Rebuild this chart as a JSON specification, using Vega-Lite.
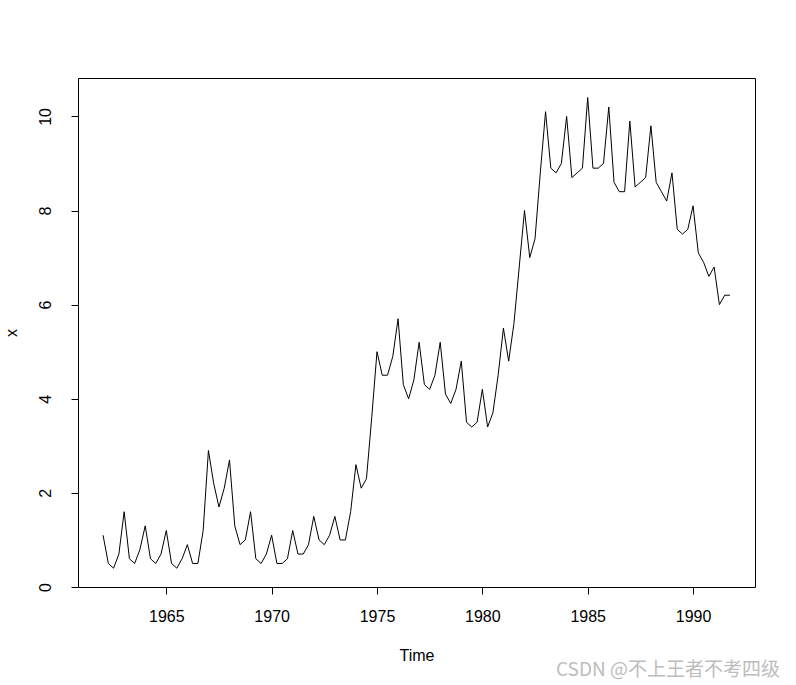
{
  "$schema": "https://vega.github.io/schema/vega-lite/v6.json",
  "width": 677,
  "height": 509,
  "autosize": {"type": "none"},
  "padding": {"left": 78, "top": 78, "right": 41, "bottom": 98},
  "background": "white",
  "config": {
    "font": "Liberation Sans",
    "view": {"stroke": "black", "strokeWidth": 1},
    "axis": {"grid": false, "domain": false, "tickColor": "black", "tickSize": 7, "tickWidth": 1,
      "labelColor": "black", "labelFont": "Liberation Sans", "labelFontSize": 16,
      "titleFont": "Liberation Sans", "titleFontSize": 16, "titleFontWeight": "normal", "titleColor": "black"}
  },
  "title": {"text": "CSDN @不上王者不考四级", "orient": "bottom", "anchor": "end", "font": "Noto Sans CJK SC",
    "fontSize": 19, "fontWeight": "normal", "color": "#bdbdbd", "dx": 25, "offset": -2},
  "data": {"values": [
    {"t": 1962.00, "x": 1.1}, {"t": 1962.25, "x": 0.5}, {"t": 1962.50, "x": 0.4}, {"t": 1962.75, "x": 0.7},
    {"t": 1963.00, "x": 1.6}, {"t": 1963.25, "x": 0.6}, {"t": 1963.50, "x": 0.5}, {"t": 1963.75, "x": 0.8},
    {"t": 1964.00, "x": 1.3}, {"t": 1964.25, "x": 0.6}, {"t": 1964.50, "x": 0.5}, {"t": 1964.75, "x": 0.7},
    {"t": 1965.00, "x": 1.2}, {"t": 1965.25, "x": 0.5}, {"t": 1965.50, "x": 0.4}, {"t": 1965.75, "x": 0.6},
    {"t": 1966.00, "x": 0.9}, {"t": 1966.25, "x": 0.5}, {"t": 1966.50, "x": 0.5}, {"t": 1966.75, "x": 1.2},
    {"t": 1967.00, "x": 2.9}, {"t": 1967.25, "x": 2.2}, {"t": 1967.50, "x": 1.7}, {"t": 1967.75, "x": 2.1},
    {"t": 1968.00, "x": 2.7}, {"t": 1968.25, "x": 1.3}, {"t": 1968.50, "x": 0.9}, {"t": 1968.75, "x": 1.0},
    {"t": 1969.00, "x": 1.6}, {"t": 1969.25, "x": 0.6}, {"t": 1969.50, "x": 0.5}, {"t": 1969.75, "x": 0.7},
    {"t": 1970.00, "x": 1.1}, {"t": 1970.25, "x": 0.5}, {"t": 1970.50, "x": 0.5}, {"t": 1970.75, "x": 0.6},
    {"t": 1971.00, "x": 1.2}, {"t": 1971.25, "x": 0.7}, {"t": 1971.50, "x": 0.7}, {"t": 1971.75, "x": 0.9},
    {"t": 1972.00, "x": 1.5}, {"t": 1972.25, "x": 1.0}, {"t": 1972.50, "x": 0.9}, {"t": 1972.75, "x": 1.1},
    {"t": 1973.00, "x": 1.5}, {"t": 1973.25, "x": 1.0}, {"t": 1973.50, "x": 1.0}, {"t": 1973.75, "x": 1.6},
    {"t": 1974.00, "x": 2.6}, {"t": 1974.25, "x": 2.1}, {"t": 1974.50, "x": 2.3}, {"t": 1974.75, "x": 3.6},
    {"t": 1975.00, "x": 5.0}, {"t": 1975.25, "x": 4.5}, {"t": 1975.50, "x": 4.5}, {"t": 1975.75, "x": 4.9},
    {"t": 1976.00, "x": 5.7}, {"t": 1976.25, "x": 4.3}, {"t": 1976.50, "x": 4.0}, {"t": 1976.75, "x": 4.4},
    {"t": 1977.00, "x": 5.2}, {"t": 1977.25, "x": 4.3}, {"t": 1977.50, "x": 4.2}, {"t": 1977.75, "x": 4.5},
    {"t": 1978.00, "x": 5.2}, {"t": 1978.25, "x": 4.1}, {"t": 1978.50, "x": 3.9}, {"t": 1978.75, "x": 4.2},
    {"t": 1979.00, "x": 4.8}, {"t": 1979.25, "x": 3.5}, {"t": 1979.50, "x": 3.4}, {"t": 1979.75, "x": 3.5},
    {"t": 1980.00, "x": 4.2}, {"t": 1980.25, "x": 3.4}, {"t": 1980.50, "x": 3.7}, {"t": 1980.75, "x": 4.5},
    {"t": 1981.00, "x": 5.5}, {"t": 1981.25, "x": 4.8}, {"t": 1981.50, "x": 5.6}, {"t": 1981.75, "x": 6.8},
    {"t": 1982.00, "x": 8.0}, {"t": 1982.25, "x": 7.0}, {"t": 1982.50, "x": 7.4}, {"t": 1982.75, "x": 8.8},
    {"t": 1983.00, "x": 10.1}, {"t": 1983.25, "x": 8.9}, {"t": 1983.50, "x": 8.8}, {"t": 1983.75, "x": 9.0},
    {"t": 1984.00, "x": 10.0}, {"t": 1984.25, "x": 8.7}, {"t": 1984.50, "x": 8.8}, {"t": 1984.75, "x": 8.9},
    {"t": 1985.00, "x": 10.4}, {"t": 1985.25, "x": 8.9}, {"t": 1985.50, "x": 8.9}, {"t": 1985.75, "x": 9.0},
    {"t": 1986.00, "x": 10.2}, {"t": 1986.25, "x": 8.6}, {"t": 1986.50, "x": 8.4}, {"t": 1986.75, "x": 8.4},
    {"t": 1987.00, "x": 9.9}, {"t": 1987.25, "x": 8.5}, {"t": 1987.50, "x": 8.6}, {"t": 1987.75, "x": 8.7},
    {"t": 1988.00, "x": 9.8}, {"t": 1988.25, "x": 8.6}, {"t": 1988.50, "x": 8.4}, {"t": 1988.75, "x": 8.2},
    {"t": 1989.00, "x": 8.8}, {"t": 1989.25, "x": 7.6}, {"t": 1989.50, "x": 7.5}, {"t": 1989.75, "x": 7.6},
    {"t": 1990.00, "x": 8.1}, {"t": 1990.25, "x": 7.1}, {"t": 1990.50, "x": 6.9}, {"t": 1990.75, "x": 6.6},
    {"t": 1991.00, "x": 6.8}, {"t": 1991.25, "x": 6.0}, {"t": 1991.50, "x": 6.2}, {"t": 1991.75, "x": 6.2}
  ]},
  "mark": {"type": "line", "color": "black", "strokeWidth": 1, "interpolate": "linear"},
  "encoding": {
    "x": {"field": "t", "type": "quantitative", "title": "Time",
      "scale": {"domain": [1960.81, 1992.94], "nice": false, "zero": false},
      "axis": {"values": [1965, 1970, 1975, 1980, 1985, 1990], "format": "d", "labelPadding": 14, "titlePadding": 23}},
    "y": {"field": "x", "type": "quantitative", "title": "x",
      "scale": {"domain": [0, 10.816], "nice": false, "zero": false},
      "axis": {"values": [0, 2, 4, 6, 8, 10], "labelAngle": -90, "labelAlign": "center", "labelBaseline": "bottom",
        "labelPadding": 18, "titlePadding": 18}}
  }
}
